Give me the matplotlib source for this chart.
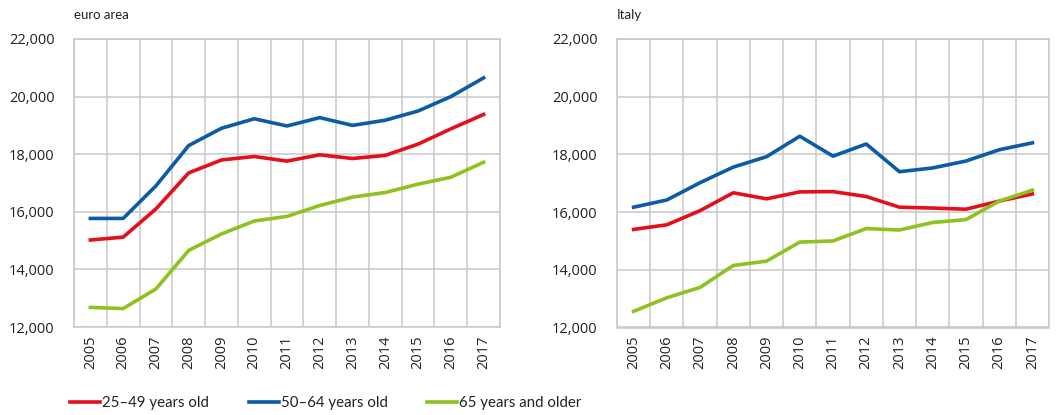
import matplotlib
matplotlib.use("Agg")
import matplotlib.pyplot as plt
from matplotlib.lines import Line2D
import numpy as np

years = [str(y) for y in range(2005, 2018)]

ea_25_49 = [15020, 15120, 16100, 17350, 17800, 17920, 17760, 17980, 17850, 17960, 18350, 18880, 19380]
ea_50_64 = [15770, 15770, 16900, 18300, 18900, 19230, 18980, 19270, 19000, 19180, 19500, 20000, 20650]
ea_65 = [12680, 12640, 13320, 14660, 15230, 15680, 15840, 16220, 16510, 16670, 16960, 17200, 17720]

it_25_49 = [15400, 15560, 16050, 16670, 16460, 16700, 16710, 16540, 16170, 16140, 16100, 16380, 16630]
it_50_64 = [16170, 16420, 17020, 17560, 17920, 18630, 17940, 18360, 17400, 17530, 17770, 18160, 18400]
it_65 = [12560, 13030, 13390, 14150, 14300, 14960, 15000, 15430, 15380, 15640, 15740, 16380, 16760]

series_labels = ["25\u201349 years old", "50\u201364 years old", "65 years and older"]
panel_titles = ["euro area", "Italy"]
yticks = [12000, 14000, 16000, 18000, 20000, 22000]

RED = "#e3101b"
BLUE = "#0b5ba6"
GREEN = "#8dc21f"
GRID = "#c8c8c8"
TXT = "#222222"

plt.rcParams['font.family'] = ['Open Sans', 'DejaVu Sans']

W, H = 1058, 415
fig = plt.figure(figsize=(W / 100, H / 100), dpi=100)

def add_ax(x0, x1, ytop, ybot):
    return fig.add_axes([x0 / W, 1 - ybot / H, (x1 - x0) / W, (ybot - ytop) / H])

axes = [add_ax(74, 500, 39, 327), add_ax(617, 1049, 39, 327.5)]
data = [(ea_25_49, ea_50_64, ea_65), (it_25_49, it_50_64, it_65)]

x = np.arange(len(years))
for ax, (r, b, g), title in zip(axes, data, panel_titles):
    ax.plot(x, r, color=RED, lw=2.6, solid_joinstyle='round', zorder=3)
    ax.plot(x, b, color=BLUE, lw=2.6, solid_joinstyle='round', zorder=3)
    ax.plot(x, g, color=GREEN, lw=2.6, solid_joinstyle='round', zorder=3)
    ax.set_xlim(-0.5, len(years) - 0.5)
    ax.set_ylim(12000, 22000)
    ax.set_yticks(yticks)
    ax.set_yticklabels([f"{v:,}" for v in yticks], fontsize=10.5, color=TXT)
    ax.set_xticks(x)
    ax.set_xticklabels(years, rotation=90, fontsize=10.5, color=TXT)
    ax.set_xticks(np.arange(-0.5, len(years)), minor=True)
    ax.grid(True, axis='y', color=GRID, lw=1.1, zorder=0)
    ax.grid(True, axis='x', which='minor', color=GRID, lw=1.1, zorder=0)
    ax.tick_params(axis='both', which='both', length=0)
    ax.tick_params(axis='y', pad=14)
    ax.tick_params(axis='x', pad=6)
    for s in ax.spines.values():
        s.set_color(GRID)
        s.set_linewidth(1.1)
    ax.annotate(title, xy=(0, 1), xycoords='axes fraction', xytext=(0, 17),
                textcoords='offset points', fontsize=9.5, ha='left', va='center',
                color=TXT, family=['Lato', 'DejaVu Sans'])

legend_x = [70, 249, 427]
for c, lab, lx in zip((RED, BLUE, GREEN), series_labels, legend_x):
    h = Line2D([0], [0], color=c, lw=2.6)
    leg = fig.legend([h], [lab], loc='center left', bbox_to_anchor=(lx / W, 1 - 403 / H),
                     frameon=False, prop={'family': ['Lato', 'DejaVu Sans'], 'size': 10.8},
                     handlelength=2.0, handletextpad=0.12, borderaxespad=0, borderpad=0)
    for t in leg.get_texts():
        t.set_color(TXT)

fig.savefig("out.png", dpi=100)
